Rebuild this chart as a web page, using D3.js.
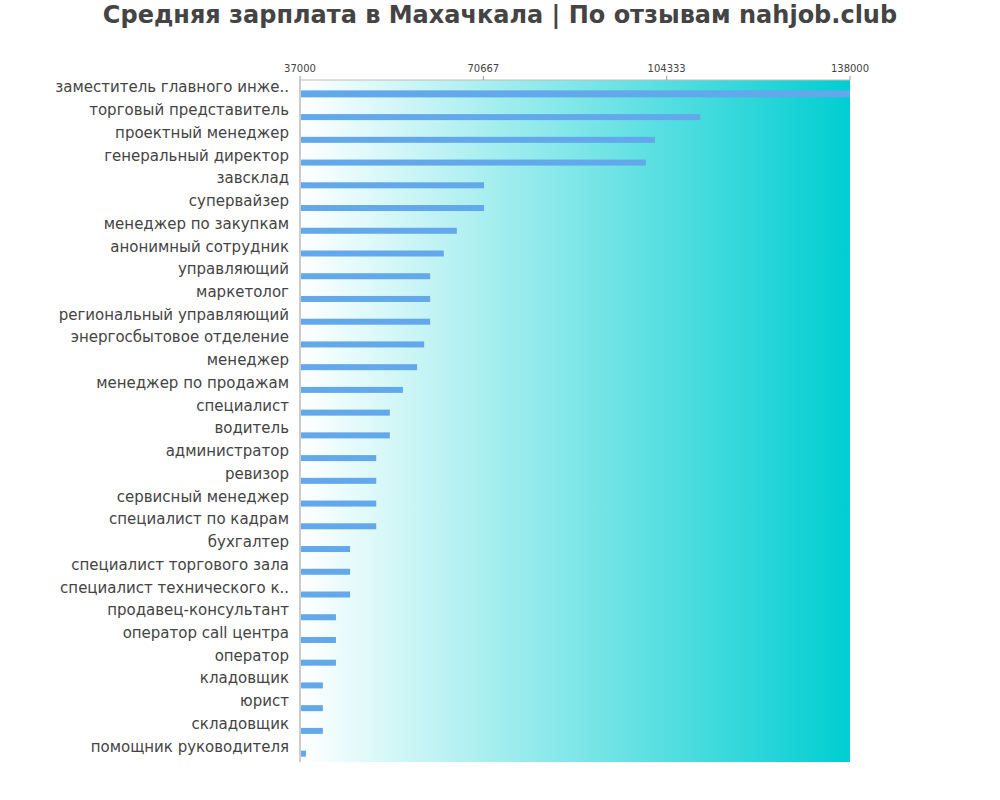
<!DOCTYPE html>
<html><head><meta charset="utf-8">
<script src="https://cdn.jsdelivr.net/npm/d3@7"></script>
<style>body{margin:0;background:#fff}</style></head>
<body><svg id="c" width="1000" height="800"></svg>
<script>
const categories=["заместитель главного инже..","торговый представитель","проектный менеджер","генеральный директор","завсклад","супервайзер","менеджер по закупкам","анонимный сотрудник","управляющий","маркетолог","региональный управляющий","энергосбытовое отделение","менеджер","менеджер по продажам","специалист","водитель","администратор","ревизор","сервисный менеджер","специалист по кадрам","бухгалтер","специалист торгового зала","специалист технического к..","продавец-консультант","оператор call центра","оператор","кладовщик","юрист","складовщик","помощник  руководителя"];
const salaries=[138000,110500,102200,100500,70800,70800,65800,63400,60900,60900,60900,59800,58500,55900,53500,53500,51000,51000,51000,51000,46200,46200,46200,43600,43600,43600,41200,41200,41200,38100];
const tickValues=[37000,70667,104333,138000];
const svg=d3.select("#c");
const L=300,R=850,T=80,B=762;
const x=d3.scaleLinear().domain([37000,138000]).range([L,R]);
const y=d3.scaleBand().domain(categories).range([T,B]);
const defs=svg.append("defs");
const g=defs.append("linearGradient").attr("id","gr");
g.append("stop").attr("offset","0%").attr("stop-color","#ffffff");
g.append("stop").attr("offset","100%").attr("stop-color","#00ced1");
svg.append("rect").attr("x",L).attr("y",T).attr("width",R-L).attr("height",B-T).attr("fill","url(#gr)");
svg.append("text").attr("x",500).attr("y",23).attr("text-anchor","middle").attr("font-family","DejaVu Sans").attr("font-weight","bold").attr("font-size",24).attr("fill","#444").text("Средняя зарплата в Махачкала | По отзывам nahjob.club");
svg.append("line").attr("x1",L).attr("x2",L).attr("y1",T).attr("y2",B).attr("stroke","#999");
svg.append("line").attr("x1",L).attr("x2",R).attr("y1",T).attr("y2",T).attr("stroke","#bbb");
svg.selectAll(".tk").data(tickValues).enter().append("text").attr("x",d=>x(d)).attr("y",72).attr("text-anchor","middle").attr("font-family","DejaVu Sans").attr("font-size",10).attr("fill","#444").text(d=>d);
svg.selectAll(".tl").data(tickValues).enter().append("line").attr("x1",d=>x(d)).attr("x2",d=>x(d)).attr("y1",T-4).attr("y2",T).attr("stroke","#999");
svg.selectAll(".bar").data(categories).enter().append("rect")
 .attr("x",L+1).attr("y",(d,i)=>y(d)+y.bandwidth()*0.5-(i==0?1:0))
 .attr("width",(d,i)=>x(salaries[i])-L-1).attr("height",(d,i)=>i==0?7:6).attr("fill","#62a8ea");
svg.selectAll(".lb").data(categories).enter().append("text")
 .attr("x",289).attr("y",d=>y(d)+y.bandwidth()*0.5+1).attr("text-anchor","end")
 .attr("font-family","DejaVu Sans").attr("font-size",15).attr("fill","#444").text(d=>d);
</script></body></html>
